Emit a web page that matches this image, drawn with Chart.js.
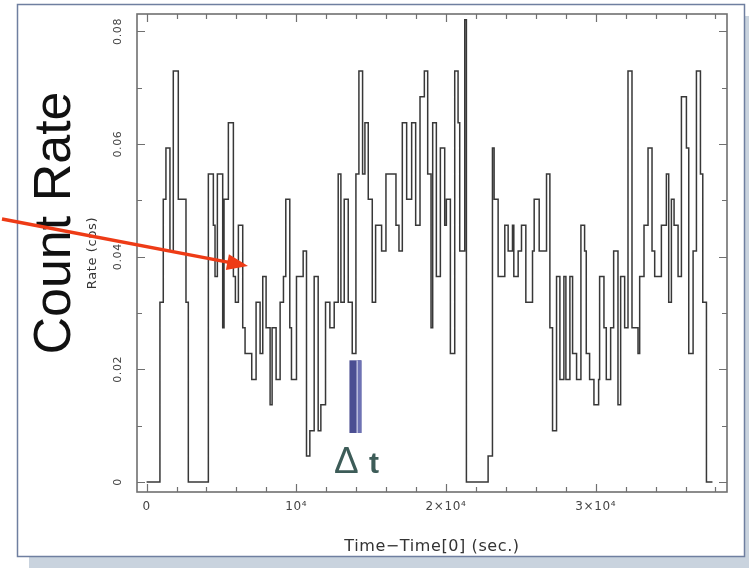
<!DOCTYPE html>
<html>
<head>
<meta charset="utf-8">
<script src="https://cdn.jsdelivr.net/npm/chart.js@4.4.1/dist/chart.umd.min.js"></script>
<style>
html, body { margin: 0; padding: 0; background: #fff; }
</style>
</head>
<body>
<canvas id="myChart" width="749" height="573"></canvas>
<script>
// start time of each bin (s) and the count rate in that bin (cps)
var binStart = [
    0, 892, 1115, 1293, 1561, 1784, 2118, 2632, 2788,
    4126, 4460, 4572, 4728, 5084, 5173, 5463, 5798, 5932, 6132, 6422, 6578, 7024, 7314, 7582, 7760, 7983, 8251, 8385, 8652, 8920, 9143, 9299,
    9566, 9678, 10013, 10459, 10682, 10905, 11195, 11462, 11641, 11953, 12243, 12533, 12800, 12979, 13202, 13470, 13737, 13983, 14183, 14428,
    14584, 14807, 15075, 15298, 15699, 15989, 16658, 16859, 17082, 17372, 17706, 17974, 18264, 18554, 18777, 19000, 19111,
    19356, 19624, 19914, 20025, 20293, 20583, 20806, 20917, 21252, 21363, 22813, 23103, 23214, 23482, 23928, 24151, 24441, 24530, 24820, 25043,
    25333, 25779, 25890, 26225, 26715, 26939, 27117, 27384, 27608, 27875, 28009, 28276, 28455, 28722, 29012,
    29258, 29369, 29592, 29882, 30194, 30261, 30551, 30707, 30997, 31198, 31488, 31666, 31933, 32157, 32424, 32826, 32937, 33227, 33495, 33762,
    33940, 34387, 34721, 34877, 35056, 35234, 35502, 35725, 36059, 36215, 36505, 36728, 36996, 37152, 37397, 37799
];
var rate = [
    0, 0.0319, 0.0502, 0.0593, 0.0410, 0.0730, 0.0502, 0.0319, 0,
    0.0547, 0.0456, 0.0365, 0.0547, 0.0274, 0.0502, 0.0638, 0.0365, 0.0319, 0.0456, 0.0274, 0.0228, 0.0182, 0.0319, 0.0228, 0.0365, 0.0274, 0.0137, 0.0274, 0.0182, 0.0319, 0.0365, 0.0502,
    0.0274, 0.0182, 0.0365, 0.0410, 0.0046, 0.0091, 0.0365, 0.0091, 0.0137, 0.0319, 0.0274, 0.0319, 0.0547, 0.0319, 0.0502, 0.0319, 0.0228, 0.0547, 0.0730, 0.0547,
    0.0638, 0.0502, 0.0319, 0.0456, 0.0410, 0.0547, 0.0456, 0.0410, 0.0638, 0.0502, 0.0638, 0.0456, 0.0684, 0.0730, 0.0547, 0.0274, 0.0638,
    0.0365, 0.0593, 0.0456, 0.0502, 0.0228, 0.0730, 0.0638, 0.0410, 0.0821, 0, 0.0046, 0.0593, 0.0502, 0.0365, 0.0456, 0.0410, 0.0456, 0.0365, 0.0410, 0.0456,
    0.0319, 0.0410, 0.0502, 0.0410, 0.0547, 0.0274, 0.0091, 0.0365, 0.0182, 0.0365, 0.0182, 0.0365, 0.0228, 0.0182, 0.0456,
    0.0410, 0.0228, 0.0182, 0.0137, 0.0182, 0.0365, 0.0274, 0.0182, 0.0274, 0.0410, 0.0137, 0.0365, 0.0274, 0.0730, 0.0274, 0.0228, 0.0365, 0.0456, 0.0593, 0.0410,
    0.0365, 0.0456, 0.0547, 0.0319, 0.0502, 0.0456, 0.0365, 0.0684, 0.0593, 0.0228, 0.0410, 0.0730, 0.0547, 0.0319, 0, 0
];

var xTickValues = [0, 10000, 20000, 30000];
var xTickLabels = ['0', '10⁴', '2×10⁴', '3×10⁴'];
var yTickValues = [0, 0.02, 0.04, 0.06, 0.08];
var yTickLabels = ['0', '0.02', '0.04', '0.06', '0.08'];

// the Δt marker (time span and rate span)
var markerTime = [13550, 14350];
var markerRate = [0.0087, 0.0216];

Chart.defaults.font.family = '"DejaVu Sans", sans-serif';

// frame, inward ticks and the annotations
var decor = {
    id: 'decor',
    beforeDraw: function (chart) {
        var c = chart.ctx;
        c.save();
        c.fillStyle = '#c9d3de';
        c.fillRect(29, 16, 749 - 29, 568 - 16);
        c.fillStyle = '#ffffff';
        c.fillRect(17, 4, 727, 552);
        c.strokeStyle = '#6f7fa0';
        c.lineWidth = 1.5;
        c.strokeRect(17.5, 4.5, 727, 552);
        c.restore();
        // the plot's axis lettering is widely spaced
        c.letterSpacing = '0.6px';
    },
    afterDraw: function (chart) {
        var c = chart.ctx, a = chart.chartArea, xs = chart.scales.x, ys = chart.scales.y;
        c.letterSpacing = '0px';
        c.save();
        c.strokeStyle = '#707070';
        c.lineWidth = 1.6;
        c.strokeRect(a.left, a.top, a.right - a.left, a.bottom - a.top);

        c.lineWidth = 1.2;
        c.beginPath();
        for (var t = 0; t <= xs.max; t += 2000) {
            var px = Math.round(xs.getPixelForValue(t)) + 0.5;
            var len = t % 10000 === 0 ? 8 : 5;
            c.moveTo(px, a.bottom); c.lineTo(px, a.bottom - len);
            c.moveTo(px, a.top); c.lineTo(px, a.top + len);
        }
        for (var k = 0; k * 0.01 <= ys.max; k++) {
            var py = Math.round(ys.getPixelForValue(k * 0.01)) + 0.5;
            var l2 = k % 2 === 0 ? 8 : 5;
            c.moveTo(a.left, py); c.lineTo(a.left + l2, py);
            c.moveTo(a.right, py); c.lineTo(a.right - l2, py);
        }
        c.stroke();

        // blue Δt bar
        var x0 = xs.getPixelForValue(markerTime[0]), x1 = xs.getPixelForValue(markerTime[1]);
        var y0 = ys.getPixelForValue(markerRate[1]), y1 = ys.getPixelForValue(markerRate[0]);
        c.fillStyle = '#4b4e92';
        c.fillRect(x0, y0, x1 - x0, y1 - y0);
        c.fillStyle = '#6e72b4';
        c.fillRect(x0 + (x1 - x0) * 0.62, y0, (x1 - x0) * 0.38, y1 - y0);
        c.fillStyle = '#e6e6f4';
        c.fillRect(x0 + (x1 - x0) * 0.6, y0, 1, y1 - y0);

        c.fillStyle = '#3d5c58';
        c.font = '37px "Liberation Sans", Arial, sans-serif';
        c.textBaseline = 'alphabetic';
        c.textAlign = 'left';
        c.fillText('Δ', 334, 473);
        c.font = 'bold 30px "Liberation Sans", Arial, sans-serif';
        c.fillText('t', 369, 473);

        // big rotated label
        c.save();
        c.translate(70, 223);
        c.rotate(-Math.PI / 2);
        c.fillStyle = '#111';
        c.font = '52px "Liberation Sans", Arial, sans-serif';
        c.textAlign = 'center';
        c.textBaseline = 'alphabetic';
        c.fillText('Count Rate', 0, 0);
        c.restore();

        // red arrow
        var sx = 2, sy = 219, tx = 248, ty = 266;
        var ang = Math.atan2(ty - sy, tx - sx);
        c.strokeStyle = '#ee3b16';
        c.fillStyle = '#ee3b16';
        c.lineWidth = 3.5;
        c.beginPath();
        c.moveTo(sx, sy);
        c.lineTo(tx - 18 * Math.cos(ang), ty - 18 * Math.sin(ang));
        c.stroke();
        c.beginPath();
        c.moveTo(tx, ty);
        c.lineTo(tx - 21 * Math.cos(ang) + 8 * Math.sin(ang), ty - 21 * Math.sin(ang) - 8 * Math.cos(ang));
        c.lineTo(tx - 21 * Math.cos(ang) - 8 * Math.sin(ang), ty - 21 * Math.sin(ang) + 8 * Math.cos(ang));
        c.closePath();
        c.fill();
        c.restore();
    }
};

var ctx = document.getElementById('myChart').getContext('2d');
var myChart = new Chart(ctx, {
    type: 'line',
    data: {
        datasets: [{
            label: 'Rate',
            data: binStart.map(function (t, i) { return { x: t, y: rate[i] }; }),
            stepped: 'before',
            borderColor: '#383838',
            borderWidth: 1.5,
            borderJoinStyle: 'miter',
            pointRadius: 0,
            fill: false
        }]
    },
    options: {
        responsive: false,
        animation: false,
        layout: { padding: { top: 14, right: 22, bottom: 0, left: 0 } },
        plugins: {
            legend: { display: false },
            tooltip: { enabled: false }
        },
        scales: {
            x: {
                type: 'linear',
                min: -640,
                max: 38770,
                afterBuildTicks: function (s) { s.ticks = xTickValues.map(function (v) { return { value: v }; }); },
                afterFit: function (s) { s.height = 81; },
                grid: { display: false, drawTicks: false },
                border: { display: false },
                ticks: {
                    padding: 8,
                    color: '#444',
                    maxRotation: 0,
                    font: { size: 12 },
                    callback: function (v) { return xTickLabels[xTickValues.indexOf(v)]; }
                },
                title: {
                    display: true,
                    text: 'Time−Time[0] (sec.)',
                    color: '#333',
                    font: { size: 16 },
                    padding: { top: 0, bottom: 17 }
                }
            },
            y: {
                min: -0.00178,
                max: 0.0831,
                afterBuildTicks: function (s) { s.ticks = yTickValues.map(function (v) { return { value: v }; }); },
                afterFit: function (s) { s.width = 137; },
                grid: { display: false, drawTicks: false },
                border: { display: false },
                ticks: {
                    padding: 7,
                    color: '#444',
                    minRotation: 90,
                    maxRotation: 90,
                    crossAlign: 'center',
                    font: { size: 11 },
                    callback: function (v) { return yTickLabels[yTickValues.indexOf(v)]; }
                },
                title: {
                    display: true,
                    text: 'Rate (cps)',
                    color: '#333',
                    font: { size: 13 },
                    padding: { top: 85, bottom: 0 }
                }
            }
        }
    },
    plugins: [decor]
});
</script>
</body>
</html>
